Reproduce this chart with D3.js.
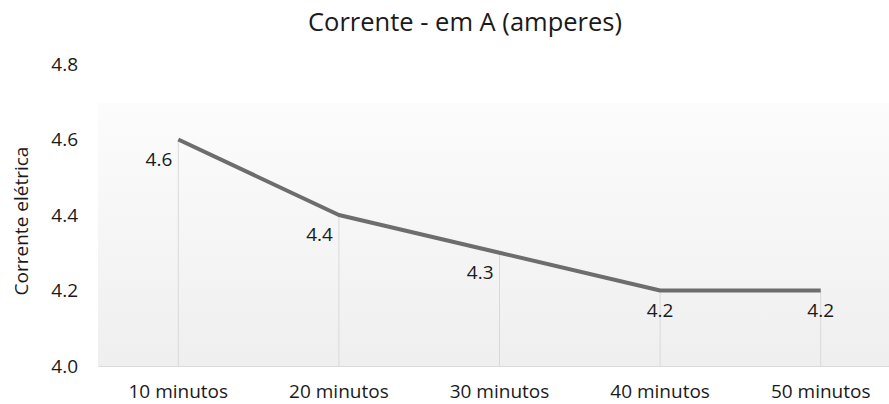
<!DOCTYPE html>
<html>
<head>
<meta charset="utf-8">
<script src="https://cdn.jsdelivr.net/npm/d3@7"></script>
<style>
  html, body { margin: 0; padding: 0; background: #ffffff; }
  svg { display: block; font-family: "Open Sans", sans-serif; }
</style>
</head>
<body>
<svg id="chart" width="889" height="404"></svg>
<script>
// Corrente medida a cada 10 minutos
const categories = ["10 minutos", "20 minutos", "30 minutos", "40 minutos", "50 minutos"];
const currentValues = [4.6, 4.4, 4.3, 4.2, 4.2];
const yTicks = [4.0, 4.2, 4.4, 4.6, 4.8];
const titleText = "Corrente - em A (amperes)";
const yAxisTitle = "Corrente elétrica";

const W = 889, H = 404;
const plot = { left: 98, right: 901, top: 103, bottom: 366 };

const svg = d3.select("#chart");

const x = d3.scaleBand()
  .domain(categories)
  .range([plot.left, plot.right])
  .padding(0);

const y = d3.scaleLinear()
  .domain([4.0, 4.8])
  .range([366, 64]);

const cx = d => x(d) + x.bandwidth() / 2;

// plot area background: soft vertical gradient
const defs = svg.append("defs");
const grad = defs.append("linearGradient")
  .attr("id", "plotFill")
  .attr("x1", 0).attr("y1", 0).attr("x2", 0).attr("y2", 1);
grad.append("stop").attr("offset", "0%").attr("stop-color", "#fcfcfc");
grad.append("stop").attr("offset", "100%").attr("stop-color", "#efefef");

svg.append("rect")
  .attr("x", plot.left)
  .attr("y", plot.top)
  .attr("width", plot.right - plot.left)
  .attr("height", plot.bottom - plot.top)
  .attr("fill", "url(#plotFill)");

// title
svg.append("text")
  .attr("x", 465)
  .attr("y", 31)
  .attr("text-anchor", "middle")
  .attr("font-size", 25.5)
  .attr("fill", "#1a1a1a")
  .text(titleText);

// y axis (labels only)
const yAxis = d3.axisLeft(y)
  .tickValues(yTicks)
  .tickFormat(d3.format(".1f"))
  .tickSize(0)
  .tickPadding(0);

const yG = svg.append("g")
  .attr("transform", "translate(78,0)")
  .call(yAxis);
yG.select(".domain").remove();
yG.selectAll("text")
  .attr("font-family", "Open Sans, sans-serif")
  .attr("font-size", 19)
  .attr("fill", "#1a1a1a");

// y axis title
svg.append("text")
  .attr("transform", `translate(28,221) rotate(-90)`)
  .attr("text-anchor", "middle")
  .attr("font-size", 19)
  .attr("fill", "#1a1a1a")
  .text(yAxisTitle);

// x axis
const xAxis = d3.axisBottom(x).tickSize(0).tickPadding(0);
const xG = svg.append("g")
  .attr("transform", `translate(0,${plot.bottom})`)
  .call(xAxis);
xG.select(".domain")
  .attr("stroke", "#d9d9d9")
  .attr("stroke-width", 1);
xG.selectAll("text")
  .attr("font-family", "Open Sans, sans-serif")
  .attr("font-size", 19)
  .attr("fill", "#1a1a1a")
  .attr("dy", 0)
  .attr("y", 32);

// drop lines from each point to the axis
svg.append("g")
  .selectAll("line")
  .data(categories)
  .join("line")
  .attr("x1", d => cx(d))
  .attr("x2", d => cx(d))
  .attr("y1", (d, i) => y(currentValues[i]))
  .attr("y2", plot.bottom)
  .attr("stroke", "#d9d9d9")
  .attr("stroke-width", 1);

// series line
const line = d3.line()
  .x((d, i) => cx(categories[i]))
  .y(d => y(d));

svg.append("path")
  .datum(currentValues)
  .attr("d", line)
  .attr("fill", "none")
  .attr("stroke", "#6d6d6d")
  .attr("stroke-width", 4)
  .attr("stroke-linejoin", "round");

// data labels: first points sit left of the marker, the flat tail below it
svg.append("g")
  .selectAll("text")
  .data(currentValues)
  .join("text")
  .attr("x", (d, i) => i < 3 ? cx(categories[i]) - 6 : cx(categories[i]))
  .attr("y", d => y(d) + 26)
  .attr("text-anchor", (d, i) => i < 3 ? "end" : "middle")
  .attr("font-size", 19)
  .attr("fill", "#1a1a1a")
  .text(d => d3.format(".1f")(d));
</script>
</body>
</html>
